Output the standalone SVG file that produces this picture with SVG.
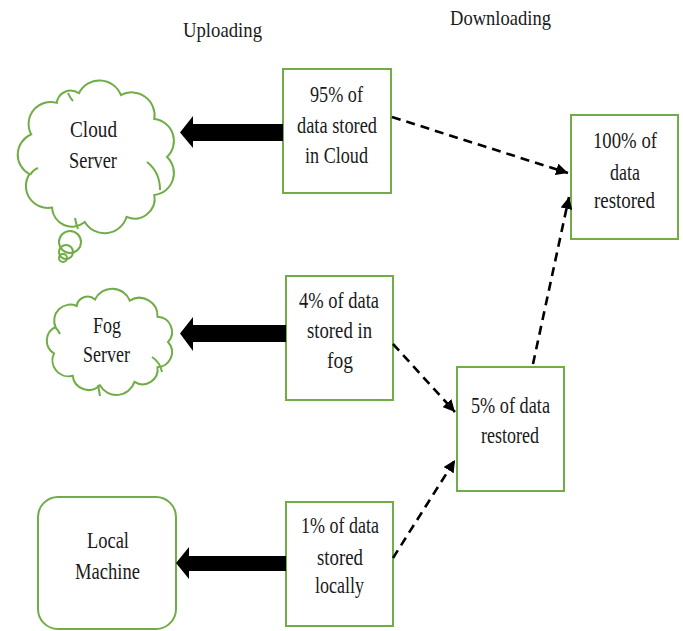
<svg xmlns="http://www.w3.org/2000/svg" width="683" height="631" viewBox="0 0 683 631">
<defs>
<style>
.shape{fill:#ffffff;stroke:#70AD47;stroke-width:2}
.t{font-family:"Liberation Serif","Times New Roman",serif;font-size:24px;fill:#1a1a1a;text-anchor:start}
.h{font-family:"Liberation Serif","Times New Roman",serif;font-size:22px;fill:#1a1a1a}
.dash{fill:none;stroke:#000;stroke-width:2.6;stroke-dasharray:9 6}
.thick{fill:#000;stroke:none}
</style>
<marker id="ah" markerUnits="userSpaceOnUse" markerWidth="14" markerHeight="12" refX="12" refY="6" orient="auto">
<path d="M0,0 L12,6 L0,12 z" fill="#000"/>
</marker>
</defs>
<rect width="683" height="631" fill="#ffffff"/>

<g id="labels">
<text class="h" x="183" y="37" textLength="79" lengthAdjust="spacingAndGlyphs">Uploading</text>
<text class="h" x="450" y="25" textLength="101" lengthAdjust="spacingAndGlyphs">Downloading</text>
</g>

<g id="cloud-server">
<path class="shape" d="M78.9,93.2 A23,23 0 0 1 120.9,95.0 A23,23 0 0 1 154.3,119.1 A22,22 0 0 1 167,157 A22,22 0 0 1 154.3,194.9 A20,20 0 0 1 126.6,216.8 A23,23 0 0 1 84.8,222.0 A20,20 0 0 1 52.0,207.6 A22,22 0 0 1 29.4,174.1 A22,22 0 0 1 31.2,134.4 A22,22 0 0 1 56.8,102.9 A14,14 0 0 1 78.9,93.2 Z"/>
<path fill="none" stroke="#70AD47" stroke-width="2" d="M147,162 Q160,172 160,190 M75,218 Q76,224 78,229 M30,175 Q33,170 38,168 M68,93 Q70,98 73,101"/>
<circle cx="70" cy="242" r="11" fill="none" stroke="#70AD47" stroke-width="2"/>
<circle cx="66" cy="252" r="7" fill="none" stroke="#70AD47" stroke-width="2"/>
<circle cx="63" cy="258" r="4" fill="none" stroke="#70AD47" stroke-width="2"/>
<text class="t" x="70" y="137" textLength="47" lengthAdjust="spacingAndGlyphs">Cloud</text>
<text class="t" x="69" y="168" textLength="48" lengthAdjust="spacingAndGlyphs">Server</text>
</g>

<g id="fog-server">
<path class="shape" d="M95.0,299.5 A19,19 0 0 1 129.8,300.7 A18,18 0 0 1 157.5,316.8 A15,15 0 0 1 168,342 A15,15 0 0 1 157.5,367.2 A15,15 0 0 1 134.5,381.9 A19,19 0 0 1 99.9,385.3 A16,16 0 0 1 72.7,375.7 A16,16 0 0 1 54.0,353.4 A15,15 0 0 1 55.5,327.0 A16,16 0 0 1 76.7,306.0 A11,11 0 0 1 95.0,299.5 Z"/>
<path fill="none" stroke="#70AD47" stroke-width="2" d="M152,357 Q160,362 162,372 M98,385 Q99,390 100,396 M55,327 Q58,330 60,334"/>
<text class="t" x="93" y="333" textLength="28" lengthAdjust="spacingAndGlyphs">Fog</text>
<text class="t" x="83" y="362" textLength="47" lengthAdjust="spacingAndGlyphs">Server</text>
</g>

<g id="local-machine">
<rect class="shape" x="38" y="497" width="138" height="132" rx="20" ry="20"/>
<text class="t" x="87" y="548" textLength="42" lengthAdjust="spacingAndGlyphs">Local</text>
<text class="t" x="75" y="579" textLength="65" lengthAdjust="spacingAndGlyphs">Machine</text>
</g>

<g id="box-cloud">
<rect class="shape" x="283" y="69" width="108" height="124"/>
<text class="t" x="310" y="102" textLength="53" lengthAdjust="spacingAndGlyphs">95% of</text>
<text class="t" x="297" y="133" textLength="80" lengthAdjust="spacingAndGlyphs">data stored</text>
<text class="t" x="305" y="163" textLength="63" lengthAdjust="spacingAndGlyphs">in Cloud</text>
</g>

<g id="box-fog">
<rect class="shape" x="286" y="276" width="107" height="124"/>
<text class="t" x="299" y="308" textLength="80" lengthAdjust="spacingAndGlyphs">4% of data</text>
<text class="t" x="307" y="338" textLength="65" lengthAdjust="spacingAndGlyphs">stored in</text>
<text class="t" x="327" y="368" textLength="26" lengthAdjust="spacingAndGlyphs">fog</text>
</g>

<g id="box-local">
<rect class="shape" x="286" y="502" width="107" height="124"/>
<text class="t" x="301" y="533" textLength="78" lengthAdjust="spacingAndGlyphs">1% of data</text>
<text class="t" x="317" y="565" textLength="46" lengthAdjust="spacingAndGlyphs">stored</text>
<text class="t" x="315" y="593" textLength="49" lengthAdjust="spacingAndGlyphs">locally</text>
</g>

<g id="box-5">
<rect class="shape" x="457" y="367" width="107" height="124"/>
<text class="t" x="471" y="413" textLength="79" lengthAdjust="spacingAndGlyphs">5% of data</text>
<text class="t" x="481" y="443" textLength="58" lengthAdjust="spacingAndGlyphs">restored</text>
</g>

<g id="box-100">
<rect class="shape" x="571" y="115" width="107" height="124"/>
<text class="t" x="593" y="148" textLength="64" lengthAdjust="spacingAndGlyphs">100% of</text>
<text class="t" x="610" y="180" textLength="30" lengthAdjust="spacingAndGlyphs">data</text>
<text class="t" x="594" y="208" textLength="61" lengthAdjust="spacingAndGlyphs">restored</text>
</g>

<g id="connectors">
<path class="thick" d="M283,124 L193,124 L193,116 L180,132.5 L193,148 L193,141 L283,141 Z"/>
<path class="thick" d="M286,325 L193,325 L193,317 L180,333.5 L193,351 L193,342 L286,342 Z"/>
<path class="thick" d="M286,556 L189,556 L189,547 L176,563 L189,579 L189,571 L286,571 Z"/>
<line class="dash" x1="392" y1="117" x2="568" y2="173" marker-end="url(#ah)"/>
<line class="dash" x1="533" y1="364" x2="569" y2="197" marker-end="url(#ah)"/>
<line class="dash" x1="393" y1="344" x2="455" y2="412" marker-end="url(#ah)"/>
<line class="dash" x1="393" y1="558" x2="455" y2="460" marker-end="url(#ah)"/>
</g>
</svg>
